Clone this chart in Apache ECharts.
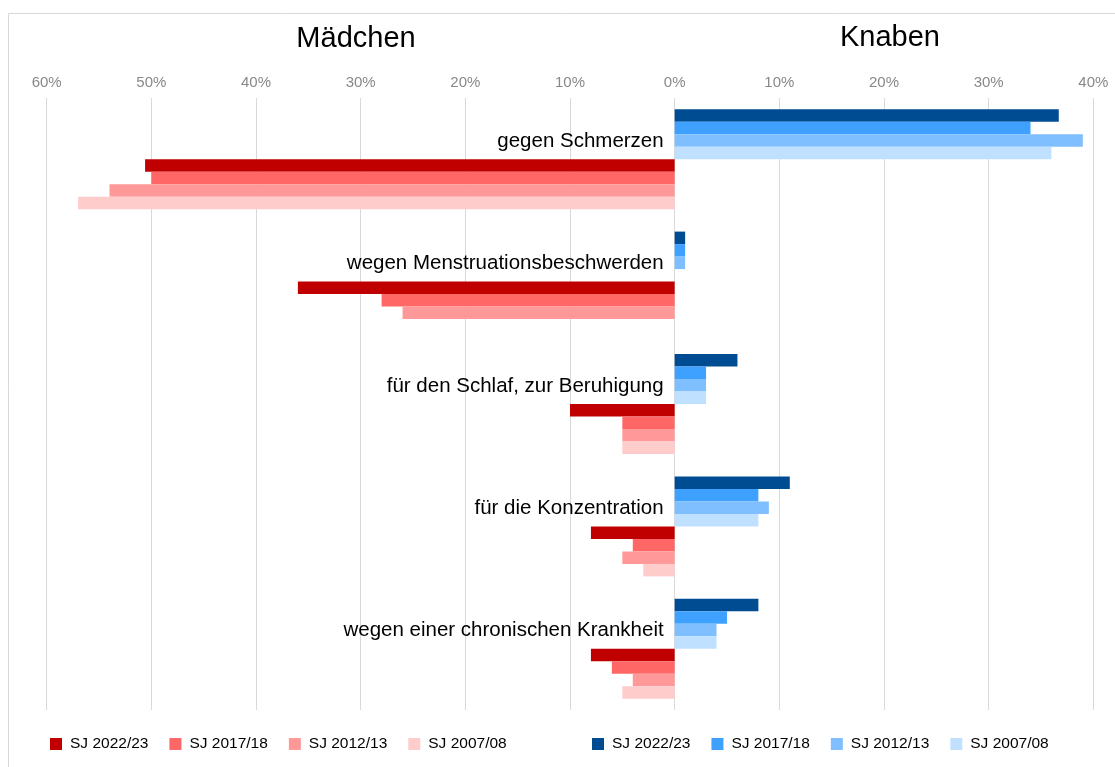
<!DOCTYPE html>
<html>
<head>
<meta charset="utf-8">
<script src="https://cdn.jsdelivr.net/npm/echarts@6/dist/echarts.min.js"></script>
<style>
html,body{margin:0;padding:0;background:#fff;}
#chart{width:1115px;height:767px;}
</style>
</head>
<body>
<div id="chart"></div>
<script>
// ---- data ----
const categories = [
  'gegen Schmerzen',
  'wegen Menstruationsbeschwerden',
  'für den Schlaf, zur Beruhigung',
  'für die Konzentration',
  'wegen einer chronischen Krankheit'
];
const years = ['SJ 2022/23', 'SJ 2017/18', 'SJ 2012/13', 'SJ 2007/08'];
// Knaben (right side, percent)
const knaben2022 = [36.7, 1, 6, 11, 8];
const knaben2017 = [34, 1, 3, 8, 5];
const knaben2012 = [39, 1, 3, 9, 4];
const knaben2007 = [36, null, 3, 8, 4];
// Mädchen (left side, percent)
const maedchen2022 = [50.6, 36, 10, 8, 8];
const maedchen2017 = [50, 28, 5, 4, 6];
const maedchen2012 = [54, 26, 5, 5, 4];
const maedchen2007 = [57, null, 5, 3, 5];
const tickMin = -60, tickMax = 40, tickStep = 10;

const blueColors = ['#004C93', '#3EA1FF', '#7FBFFF', '#C0E0FF'];
const redColors = ['#C00000', '#FF6666', '#FF9999', '#FFCCCC'];

const knaben = [knaben2022, knaben2017, knaben2012, knaben2007];
const maedchen = [maedchen2022, maedchen2017, maedchen2012, maedchen2007];

const FONT = 'Liberation Sans, Arial, sans-serif';
const series = [];
years.forEach((y, i) => {
  series.push({
    name: 'K ' + y, type: 'bar', barGap: 0, barCategoryGap: '18.3%',
    itemStyle: { color: blueColors[i] },
    data: knaben[i]
  });
});
years.forEach((y, i) => {
  series.push({
    name: 'M ' + y, type: 'bar', barGap: 0, barCategoryGap: '18.3%',
    itemStyle: { color: redColors[i] },
    data: maedchen[i].map(v => v == null ? null : -v)
  });
});

const legendCommon = {
  top: 736, padding: 0, itemWidth: 12, itemHeight: 12, itemGap: 21, icon: 'rect',
  formatter: n => n.slice(2),
  textStyle: { fontFamily: FONT, fontSize: 15.5, color: '#000', padding: [0, 0, 0, 3] },
  selectedMode: false
};

const gridLeft = 46.7, gridRight = 21.7, W = 1115;
// zero position of the value axis (category labels sit there)
const zeroX = gridLeft + (0 - tickMin) / (tickMax - tickMin) * (W - gridLeft - gridRight);

const chart = echarts.init(document.getElementById('chart'), null, { renderer: 'canvas' });
chart.setOption({
  animation: false,
  backgroundColor: '#fff',
  grid: { left: gridLeft, right: gridRight, top: 98, bottom: 57, containLabel: false, outerBoundsMode: 'none' },
  xAxis: {
    type: 'value', position: 'top', min: tickMin, max: tickMax, interval: tickStep,
    axisLine: { show: false }, axisTick: { show: false },
    splitLine: { lineStyle: { color: '#D9D9D9', width: 1 } },
    axisLabel: {
      formatter: v => Math.abs(v) + '%', color: '#888', fontFamily: FONT, fontSize: 15, margin: 8
    }
  },
  yAxis: {
    type: 'category', data: categories, inverse: true, position: 'left',
    offset: -(zeroX - gridLeft),
    axisLine: { show: false, onZero: false },
    axisTick: { show: false },
    axisLabel: {
      color: '#000', fontFamily: FONT, fontSize: 20.5, margin: 11,
      verticalAlign: 'bottom', lineHeight: 36
    }
  },
  legend: [
    Object.assign({ left: 50, data: years.map(y => 'M ' + y) }, legendCommon),
    Object.assign({ left: 592, data: years.map(y => 'K ' + y) }, legendCommon)
  ],
  graphic: [
    { type: 'rect', shape: { x: 8.5, y: 13.5, width: 1130, height: 780 },
      style: { fill: 'none', stroke: '#D9D9D9', lineWidth: 1 }, silent: true },
    { type: 'text', x: 356, y: 39, style: { text: 'Mädchen', font: '29px ' + FONT, fill: '#000', textAlign: 'center', textVerticalAlign: 'middle' } },
    { type: 'text', x: 890, y: 37.5, style: { text: 'Knaben', font: '29px ' + FONT, fill: '#000', textAlign: 'center', textVerticalAlign: 'middle' } }
  ],
  series: series
});
</script>
</body>
</html>
